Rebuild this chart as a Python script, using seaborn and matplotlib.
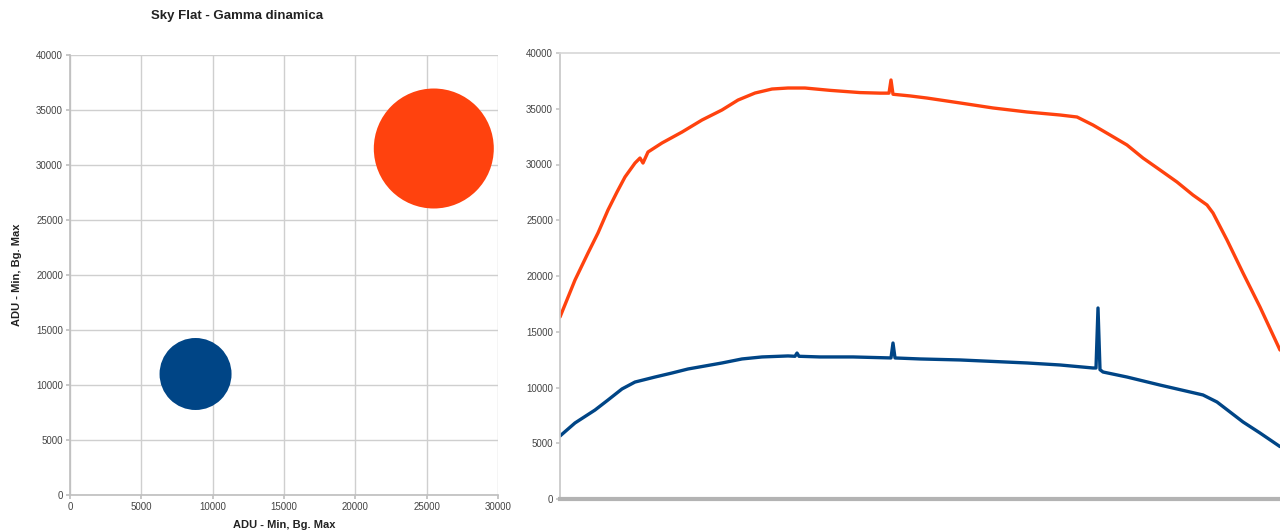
import matplotlib
matplotlib.use('Agg')
import matplotlib.pyplot as plt
import pandas as pd
import seaborn as sns

# bubble chart data (left panel)
bubble_x = [8800, 25500]
bubble_y = [11000, 31500]
bubble_size = [10000, 27800]
bubble_colors = ['#004586', '#FF420E']

# line profile data (right panel), sample position along the cut
orange_pos = [0, 15, 28, 38, 48, 57, 65, 75, 80, 83, 88, 102, 122, 142, 162,
              178, 195, 212, 228, 245, 270, 300, 320, 329, 331, 333, 350, 367,
              400, 433, 467, 500, 517, 533, 550, 567, 583, 600, 617, 633, 647,
              653, 667, 683, 700, 720]
orange_val = [16320, 19640, 22060, 23860, 25920, 27530, 28880, 30130, 30580, 30130,
              31120, 31930, 32910, 33990, 34890, 35780, 36410, 36770, 36860, 36860,
              36650, 36450, 36400, 36400, 37580, 36300, 36150, 35960, 35520, 35070,
              34710, 34440, 34260, 33540, 32650, 31750, 30580, 29510, 28430, 27260,
              26370, 25650, 23230, 20270, 17220, 13360]

blue_pos = [0, 15, 35, 48, 62, 75, 95, 112, 128, 145, 162, 182, 202, 228, 235,
            237, 239, 260, 293, 331, 333, 335, 360, 400, 467, 500, 533, 536,
            538, 540, 543, 567, 600, 643, 657, 683, 700, 720]
blue_val = [5650, 6820, 7980, 8880, 9870, 10490, 10940, 11300, 11660, 11930,
            12200, 12560, 12740, 12830, 12800, 13090, 12800, 12740, 12740, 12650,
            13990, 12650, 12560, 12470, 12200, 12020, 11750, 11750, 17130, 11600,
            11390, 10940, 10220, 9330, 8700, 6910, 5920, 4700]

sns.set_theme(style='white')
plt.rcParams['font.family'] = ['Liberation Sans', 'DejaVu Sans']

fig = plt.figure(figsize=(12.8, 5.31), dpi=100)
ax1 = fig.add_axes([70/1280, 1-495/531, 428/1280, 440/531])
ax2 = fig.add_axes([560/1280, 1-499/531, 720/1280, 446/531])

grid_c = '#cfcfcf'
tick_c = '#444444'

# left: bubble chart
df_b = pd.DataFrame({'x': bubble_x, 'y': bubble_y, 's': bubble_size,
                     'c': ['a', 'b']})
sns.scatterplot(data=df_b, x='x', y='y', size='s', sizes=(2687, 7465),
                hue='c', palette=bubble_colors, legend=False, linewidth=0,
                ax=ax1, zorder=3)
ax1.set_xlim(0, 30000)
ax1.set_ylim(0, 40000)
ax1.set_xticks(range(0, 30001, 5000))
ax1.set_yticks(range(0, 40001, 5000))
ax1.grid(True, color=grid_c, linewidth=1)
for s in ['top', 'right']:
    ax1.spines[s].set_visible(False)
ax1.spines['left'].set_color('#c0c0c0')
ax1.spines['bottom'].set_color('#c0c0c0')
ax1.tick_params(axis='both', labelsize=7, colors=tick_c, length=3,
                direction='out', left=True, bottom=True, color='#c0c0c0', pad=2)
ax1.set_xlabel('ADU - Min, Bg. Max', fontsize=8, fontweight='bold',
               color='#222222', labelpad=6)
ax1.set_ylabel('ADU - Min, Bg. Max', fontsize=8, fontweight='bold',
               color='#222222', labelpad=10)
fig.text(237/1280, 1-16/531, 'Sky Flat - Gamma dinamica', ha='center',
         va='center', fontsize=9.5, fontweight='bold', color='#222222')

# right: line profiles
df_o = pd.DataFrame({'pos': orange_pos, 'val': orange_val})
df_l = pd.DataFrame({'pos': blue_pos, 'val': blue_val})
sns.lineplot(data=df_o, x='pos', y='val', color='#FF420E', linewidth=2.4, ax=ax2)
sns.lineplot(data=df_l, x='pos', y='val', color='#004586', linewidth=2.4, ax=ax2)
ax2.set_xlim(0, 720)
ax2.set_ylim(0, 40000)
ax2.set_yticks(range(0, 40001, 5000))
ax2.set_xticks([])
ax2.set_xlabel('')
ax2.set_ylabel('')
ax2.spines['right'].set_visible(False)
ax2.spines['top'].set_color('#d8d8d8')
ax2.spines['left'].set_color('#c8c8c8')
ax2.spines['bottom'].set_color('#b3b3b3')
ax2.spines['bottom'].set_linewidth(3)
ax2.tick_params(axis='y', labelsize=7, colors=tick_c, length=3,
                direction='out', left=True, color='#c8c8c8', pad=2)

fig.savefig('out.png', dpi=100)
